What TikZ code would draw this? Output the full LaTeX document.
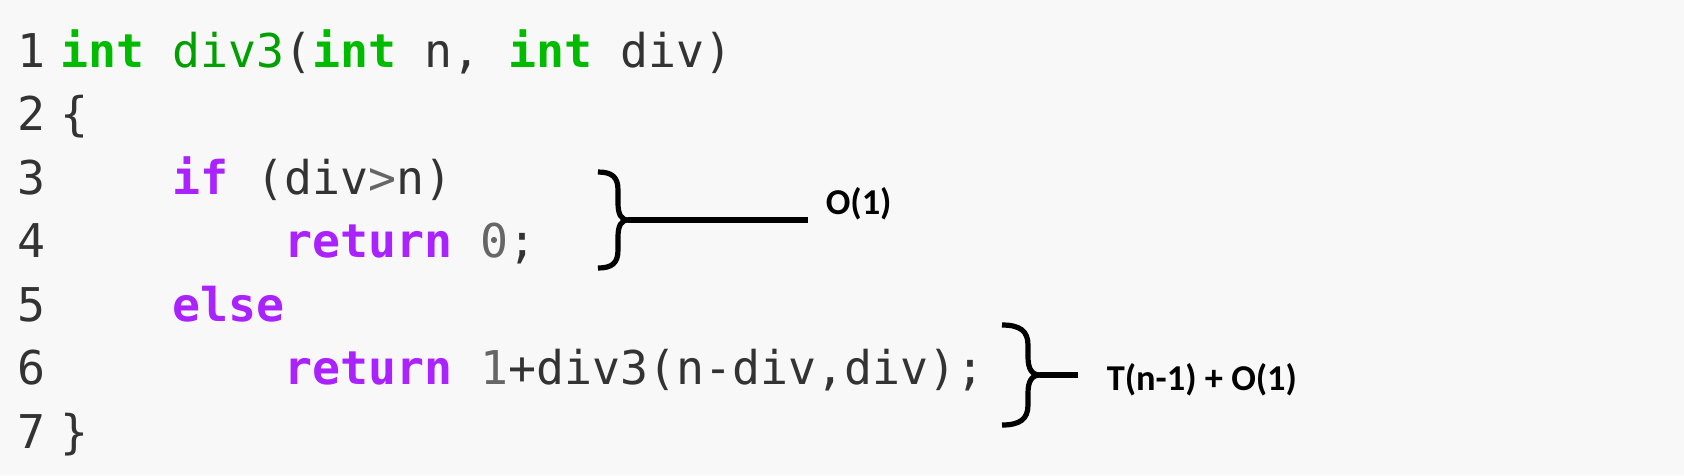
\documentclass[tikz,border=0pt]{standalone}
\usepackage{fontspec}
\newfontfamily\codefont{DejaVu Sans Mono}
\newfontfamily\notefont{Carlito}
\definecolor{bgcode}{HTML}{F8F8F8}
\definecolor{kwtype}{HTML}{00BB00}
\definecolor{fnname}{HTML}{00A000}
\definecolor{kwflow}{HTML}{AA22FF}
\definecolor{numgray}{HTML}{666666}
\definecolor{plain}{HTML}{333333}
\newcommand{\kt}[1]{\textcolor{kwtype}{\bfseries #1}}
\newcommand{\kf}[1]{\textcolor{kwflow}{\bfseries #1}}
\newcommand{\fn}[1]{\textcolor{fnname}{#1}}
\newcommand{\nm}[1]{\textcolor{numgray}{#1}}
\tikzset{
	codeline/.style={anchor=base west,inner sep=0pt,text=plain,font=\codefont\fontsize{11.63}{14}\selectfont},
	bracenote/.style={anchor=base west,inner sep=0pt,text=black,font=\notefont\bfseries\fontsize{9.1}{11}\selectfont},
	bracestroke/.style={line width=1.3pt,black}
}

\begin{document}
\begin{tikzpicture}[line join=round,x=0.25pt,y=-0.25pt]
		\useasboundingbox (0,0) rectangle (1684,475);
		\fill[bgcode] (0,0) rectangle (1684,475);
		% line numbers
		\node[codeline] (n1) at (17,67) {1};
		\node[codeline] (n2) at (17,130.5) {2};
		\node[codeline] (n3) at (17,194) {3};
		\node[codeline] (n4) at (17,257.5) {4};
		\node[codeline] (n5) at (17,321) {5};
		\node[codeline] (n6) at (17,384.5) {6};
		\node[codeline] (n7) at (17,448) {7};
		% code
		\node[codeline] (c1) at (60,67) {\kt{int} \fn{div3}(\kt{int} n, \kt{int} div)};
		\node[codeline] (c2) at (60,130.5) {\{};
		\node[codeline] (c3) at (172,194) {\kf{if} (div\nm{>}n)};
		\node[codeline] (c4) at (284,257.5) {\kf{return} \nm{0};};
		\node[codeline] (c5) at (172,321) {\kf{else}};
		\node[codeline] (c6) at (284,384.5) {\kf{return} \nm{1}+div3(n-div,div);};
		\node[codeline] (c7) at (60,448) {\}};
		% braces
		\coordinate (topA) at (598,172);
		\coordinate (tipA) at (628,220);
		\coordinate (botA) at (598,268);
		\coordinate (endA) at (808,220);
		\draw[bracestroke] (topA) .. controls (612,172) and (618,177) .. (618,190) -- (618,203) .. controls (618,214) and (621,220) .. (tipA);
		\draw[bracestroke] (tipA) .. controls (621,220) and (618,226) .. (618,237) -- (618,250) .. controls (618,263) and (612,268) .. (botA);
		\draw[bracestroke] (tipA) -- (endA);
		\node[bracenote] (oA) at (825,214) {O(1)};
		\coordinate (topB) at (1002,325);
		\coordinate (tipB) at (1040,375);
		\coordinate (botB) at (1002,425);
		\coordinate (endB) at (1078,375);
		\draw[bracestroke] (topB) .. controls (1020,325) and (1028,331) .. (1028,345) -- (1028,357) .. controls (1028,369) and (1032,375) .. (tipB);
		\draw[bracestroke] (tipB) .. controls (1032,375) and (1028,381) .. (1028,393) -- (1028,405) .. controls (1028,419) and (1020,425) .. (botB);
		\draw[bracestroke] (tipB) -- (endB);
		\node[bracenote] (oB) at (1106,390) {T(n-1) + O(1)};
	\end{tikzpicture}
\end{document}
